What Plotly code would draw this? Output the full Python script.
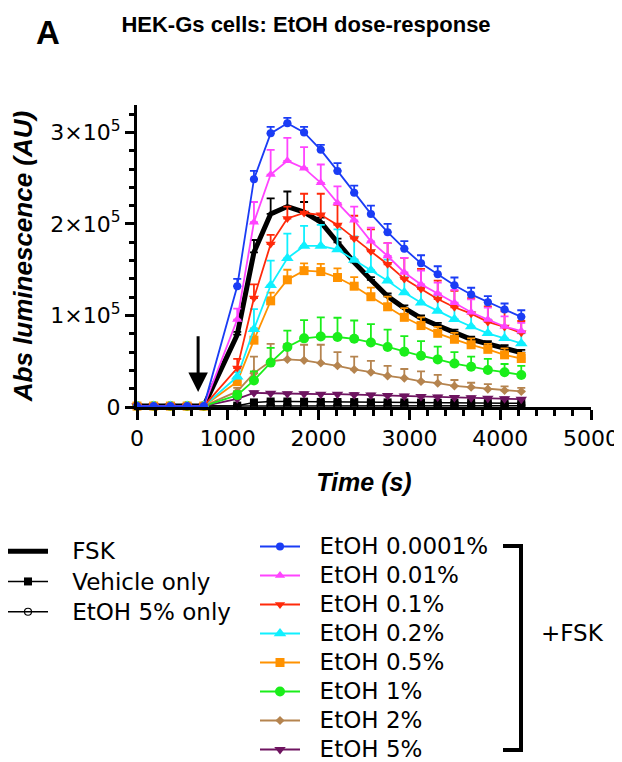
import plotly.graph_objects as go

# The page body adds an 8px offset, so the figure is laid out 8px smaller/shifted.
OFF = 8
W, H = 622 - OFF, 762 - OFF
L, R, T, B = 137 - OFF, 31, 105 - OFF, 762 - 407
PW, PH = W - L - R, H - T - B

def px(x):
    return (x - OFF - L) / PW

def py(y):
    return (H - B - (y - OFF)) / PH

TIME = [0, 184, 368, 552, 736, 1104, 1288, 1472, 1656, 1840, 2024, 2208, 2392,
        2576, 2760, 2944, 3128, 3312, 3496, 3680, 3864, 4048, 4232]

BASE = [1000, 1000, 1000, 1000, 1000]
NOERR = [0, 0, 0, 0, 0]

fsk = BASE + [79000, 169000, 211000, 219000, 213000, 202000, 180000, 158000, 139000,
              121000, 108000, 97000, 89000, 81500, 74000, 69000, 64500, 59500]
fsk_err = NOERR + [3000, 13500, 17000, 16500, 11000, 5000, 4000, 3000, 3000, 3000,
                   3000, 3000, 3000, 3000, 3000, 3000, 3000, 3000]

vehicle = BASE + [1500, 5000, 6000, 6000, 5800, 5600, 5500, 5400, 5200, 5000, 5000,
                  4800, 4600, 4500, 4400, 4200, 4100, 4000]
vehicle_err = NOERR + [1000] * 18

etoh5_only = BASE + [1000, 1500, 1500, 1500, 1500, 1500, 1500, 1500, 1500, 1500, 1500,
                     1500, 1500, 1500, 1500, 1500, 1500, 1500]
etoh5_only_err = NOERR + [800] * 18

e00001 = BASE + [132000, 249000, 299000, 310000, 300000, 281000, 258000, 234000, 211000,
                 191000, 173000, 157000, 145000, 133000, 123000, 114500, 106500, 98500]
e00001_err = NOERR + [8000, 9000, 7000, 6000, 6000, 5500, 8500, 8000, 9000, 9000, 8300,
                      8800, 8800, 8500, 7300, 6600, 6600, 7200]

e001 = BASE + [95500, 202000, 254000, 269000, 261000, 245000, 223000, 204000, 181000,
               165000, 147000, 134000, 124000, 114000, 103500, 95500, 88000, 83000]
e001_err = NOERR + [12000, 22000, 27000, 25000, 23000, 20000, 18000, 15000, 15000, 14000,
                    16000, 15000, 12000, 14000, 14000, 13000, 11000, 9000]

e01 = BASE + [42500, 119000, 178000, 206000, 212000, 210000, 199000, 184000, 170000,
              156000, 140000, 129000, 118000, 109000, 102000, 93000, 87500, 81000]
e01_err = NOERR + [10000, 15000, 10000, 13000, 21000, 23000, 22000, 25000, 24000, 23000,
                   23000, 22000, 20000, 18000, 17000, 17000, 17000, 13000]

e02 = BASE + [33000, 85000, 133000, 162500, 176000, 176000, 172000, 160500, 149500,
              138000, 125000, 114000, 105000, 96000, 88000, 80500, 75000, 69500]
e02_err = NOERR + [5000, 22000, 27000, 27000, 22000, 23000, 22000, 26000, 22000, 23000,
                   17000, 17000, 17000, 17000, 16000, 15000, 13000, 11000]

e05 = BASE + [27700, 73000, 116000, 139000, 149000, 148000, 141500, 132000, 120500,
              109500, 98000, 89000, 80500, 74000, 68000, 63000, 57000, 53000]
e05_err = NOERR + [4000, 13000, 9000, 11000, 8000, 8500, 10000, 10000, 10000, 11000,
                   10000, 9000, 7000, 7000, 7000, 6000, 7000, 6000]

e1 = BASE + [13000, 29000, 48500, 65500, 75000, 77000, 76500, 74500, 70500, 65500,
             60500, 56000, 52000, 47500, 44000, 40500, 38000, 35000]
e1_err = NOERR + [4000, 10000, 16000, 18000, 20000, 21000, 21000, 20000, 20000, 19000,
                  17000, 16000, 14000, 12500, 11000, 12000, 9000, 10000]

e2 = BASE + [17000, 37000, 50000, 52000, 51000, 48000, 45000, 41000, 38000, 34000,
             31500, 28000, 26000, 23000, 21500, 19500, 18000, 17000]
e2_err = NOERR + [4000, 18000, 19000, 17000, 17000, 20000, 15000, 14000, 12500, 11000,
                  10000, 11000, 9000, 6500, 5000, 5500, 4500, 4000]

e5 = BASE + [9000, 15500, 15000, 14500, 14500, 14000, 14000, 13500, 13000, 12500,
             12000, 11500, 11000, 10500, 10000, 9500, 9000, 8500]
e5_err = NOERR + [1500] * 18

Y_TICKS = [0, 100000, 200000, 300000]
Y_TICK_TEXT = ["0", "1×10<sup>5</sup>", "2×10<sup>5</sup>", "3×10<sup>5</sup>"]
X_TICKS = [0, 1000, 2000, 3000, 4000, 5000]

ARROW_T = 673
ARROW_TAIL, ARROW_TIP = 79000, 16500

LEG_TXT = 23


def lbl(s, pad):
    return f'<span style="font-size:{LEG_TXT}px">{pad}{s}</span>'


PAD1 = "\u00a0\u00a0\u2009"
PAD2 = "\u00a0\u00a0"

fig = go.Figure()

# (name, y, err, color, symbol, size, lw, legend, rank)
series = [
    ("Vehicle only", vehicle, vehicle_err, "black", "square", 8, 1.5, "legend", 2),
    ("EtOH 5% only", etoh5_only, etoh5_only_err, "black", "circle-open", 7, 1.5, "legend", 3),
    ("FSK", fsk, fsk_err, "black", None, 0, 5, "legend", 1),
    ("EtOH 5%", e5, e5_err, "#6e1460", "triangle-down", 10, 1.8, "legend2", 18),
    ("EtOH 2%", e2, e2_err, "#b5844f", "diamond", 7, 1.8, "legend2", 17),
    ("EtOH 1%", e1, e1_err, "#1aee1a", "circle", 10, 1.8, "legend2", 16),
    ("EtOH 0.5%", e05, e05_err, "#ff9200", "square", 9, 1.8, "legend2", 15),
    ("EtOH 0.2%", e02, e02_err, "#10f0ff", "triangle-up", 11, 1.8, "legend2", 14),
    ("EtOH 0.1%", e01, e01_err, "#ff2a0a", "triangle-down", 9, 1.8, "legend2", 13),
    ("EtOH 0.01%", e001, e001_err, "#ff44ff", "triangle-up", 9, 1.8, "legend2", 12),
    ("EtOH 0.0001%", e00001, e00001_err, "#1a3cf5", "circle", 8, 1.8, "legend2", 11),
]

for name, y, err, color, sym, size, lw, leg, rank in series:
    mode = "lines" if sym is None else "lines+markers"
    tr = dict(
        x=TIME, y=y, name=lbl(name, PAD1 if leg == "legend" else PAD2), mode=mode,
        line=dict(color=color, width=lw),
        error_y=dict(type="data", array=err, arrayminus=[0] * len(err), symmetric=False,
                     color=color, thickness=1.8, width=4),
        legend=leg, legendrank=rank, cliponaxis=False,
    )
    if sym is not None:
        tr["marker"] = dict(symbol=sym, size=size, color=color,
                            line=dict(width=1.2 if "open" in sym else 0, color=color))
    fig.add_trace(go.Scatter(**tr))

axis_font = dict(family="DejaVu Sans", size=22, color="black")

fig.update_layout(
    width=W, height=H,
    margin=dict(l=L, r=R, t=T, b=B, autoexpand=False),
    paper_bgcolor="white", plot_bgcolor="white",
    font=dict(family="DejaVu Sans", color="black"),
    title=dict(text="<b>HEK-Gs cells: EtOH dose-response</b>",
               font=dict(family="Liberation Sans", size=22, color="black"),
               x=(306 - OFF) / W, xanchor="center", xref="container",
               y=1 - (24 - OFF) / H, yanchor="middle", yref="container"),
    xaxis=dict(range=[0, 5000], tickvals=X_TICKS, ticks="outside", ticklen=10,
               tickwidth=3, tickcolor="black", showline=True, linewidth=3,
               linecolor="black", showgrid=False, zeroline=False,
               tickfont=axis_font,
               minor=dict(dtick=200, tick0=0, ticks="outside", ticklen=6, tickwidth=3,
                          tickcolor="black", showgrid=False),
               title=dict(text="<b><i>Time (s)</i></b>", standoff=24,
                          font=dict(family="Liberation Sans", size=25, color="black"))),
    yaxis=dict(range=[0, 330000], tickvals=Y_TICKS, ticktext=Y_TICK_TEXT,
               ticks="outside", ticklen=9, tickwidth=3, tickcolor="black",
               showline=True, linewidth=3, linecolor="black", showgrid=False,
               zeroline=False, tickfont=axis_font,
               minor=dict(dtick=20000, tick0=0, ticks="outside", ticklen=5, tickwidth=3,
                          tickcolor="black", showgrid=False),
               title=dict(text="<b><i>Abs luminescence (AU)</i></b>", standoff=18,
                          font=dict(family="Liberation Sans", size=26, color="black"))),
    legend=dict(x=px(3), y=py(531), xanchor="left", yanchor="top",
                font=dict(family="DejaVu Sans", size=21, color="black"),
                bgcolor="rgba(0,0,0,0)", itemwidth=40, tracegroupgap=0,
                traceorder="normal"),
    legend2=dict(x=px(255), y=py(527), xanchor="left", yanchor="top",
                 font=dict(family="DejaVu Sans", size=20, color="black"),
                 bgcolor="rgba(0,0,0,0)", itemwidth=40, tracegroupgap=0,
                 traceorder="normal"),
    showlegend=True,
)

fig.add_annotation(text="<b>A</b>", x=px(48), y=py(33), xref="paper", yref="paper",
                   showarrow=False, font=dict(family="Liberation Sans", size=33, color="black"),
                   xanchor="center", yanchor="middle")

fig.add_annotation(x=ARROW_T, y=ARROW_TIP, ax=ARROW_T, ay=ARROW_TAIL, xref="x", yref="y",
                   axref="x", ayref="y", showarrow=True, arrowhead=2, arrowsize=1.3,
                   arrowwidth=3, arrowcolor="black", text="")

# bracket grouping the +FSK series
fig.add_shape(type="path",
              path=f"M {px(503)},{py(546)} L {px(521)},{py(546)} L {px(521)},{py(750)} L {px(503)},{py(750)}",
              xref="paper", yref="paper", line=dict(color="black", width=4))
fig.add_annotation(text="+FSK", x=px(572), y=py(633), xref="paper", yref="paper",
                   showarrow=False, font=dict(family="DejaVu Sans", size=23, color="black"),
                   xanchor="center", yanchor="middle")

fig.write_html("out.html")
